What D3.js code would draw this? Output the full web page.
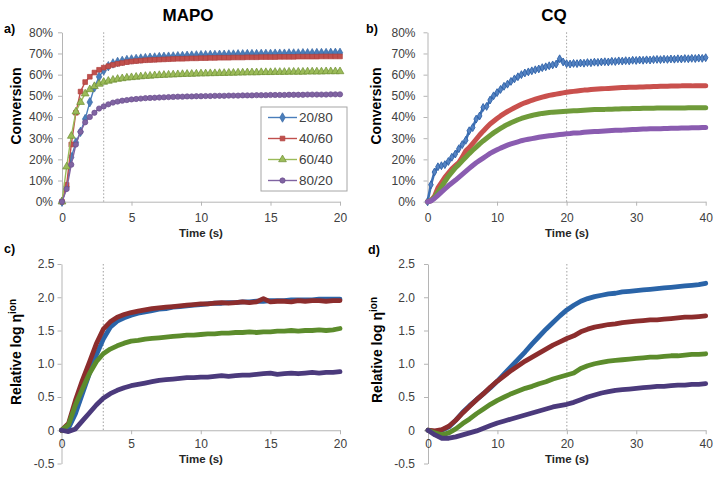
<!DOCTYPE html>
<html><head><meta charset="utf-8">
<script src="https://cdn.jsdelivr.net/npm/d3@7"></script>
<style>
body{margin:0;background:#fff;}
svg{display:block;}
text{font-family:"Liberation Sans",Arial,sans-serif;}
</style>
</head><body>
<svg id="chart" width="721" height="477"></svg>
<script>
// ---------------- DATA ----------------
const seriesNames = ["20/80", "40/60", "60/40", "80/20"];
const titles = ["MAPO", "CQ"];
const panelLabels = ["a)", "b)", "c)", "d)"];
const convTicks = [0, 10, 20, 30, 40, 50, 60, 70, 80];
const convTickLabels = ["0%", "10%", "20%", "30%", "40%", "50%", "60%", "70%", "80%"];
const etaTicks = [-0.5, 0, 0.5, 1.0, 1.5, 2.0, 2.5];
const etaTickLabels = ["-0.5", "0", "0.5", "1.0", "1.5", "2.0", "2.5"];
const xTicksMAPO = [0, 5, 10, 15, 20];
const xTicksCQ = [0, 10, 20, 30, 40];

// Panel a: MAPO conversion (%), sampled every 1/3 s
const tA = d3.range(0, 61).map(k => k / 3);
const a_2080 = [0, 7, 21, 28, 33, 39, 47, 54, 59, 62, 64, 65.3, 66, 66.5, 66.9, 67.2,
  67.4, 67.6, 67.8, 68, 68.1, 68.3, 68.4, 68.5, 68.6, 68.7, 68.8, 68.9, 69, 69.1, 69.2,
  69.2, 69.3, 69.3, 69.4, 69.4, 69.5, 69.5, 69.6, 69.6, 69.7, 69.7, 69.7, 69.8, 69.8, 69.8,
  69.9, 69.9, 69.9, 70, 70, 70, 70.1, 70.1, 70.1, 70.2, 70.2, 70.2, 70.3, 70.3, 70.3];
const a_4060 = [0, 8, 27, 42, 52, 56.5, 59, 61, 62.3, 63.3, 64, 64.6, 65.1, 65.5, 65.9, 66.2,
  66.4, 66.6, 66.8, 66.9, 67, 67.1, 67.2, 67.3, 67.4, 67.5, 67.5, 67.6, 67.7, 67.7, 67.8,
  67.8, 67.9, 67.9, 68, 68, 68, 68.1, 68.1, 68.1, 68.2, 68.2, 68.2, 68.3, 68.3, 68.3,
  68.3, 68.4, 68.4, 68.4, 68.4, 68.5, 68.5, 68.5, 68.5, 68.5, 68.6, 68.6, 68.6, 68.6, 68.6];
const a_6040 = [0, 16.5, 31, 42.5, 47, 51, 53, 54.5, 55.6, 56.5, 57, 57.5, 57.9, 58.2, 58.5, 58.7,
  58.9, 59.1, 59.3, 59.4, 59.6, 59.7, 59.8, 59.9, 60, 60.1, 60.2, 60.3, 60.3, 60.4, 60.5,
  60.5, 60.6, 60.6, 60.7, 60.7, 60.8, 60.8, 60.9, 60.9, 61, 61, 61, 61.1, 61.1, 61.1,
  61.2, 61.2, 61.2, 61.3, 61.3, 61.3, 61.3, 61.4, 61.4, 61.4, 61.4, 61.5, 61.5, 61.5, 61.5];
const a_8020 = [0, 6, 17.5, 27, 33, 37.5, 40, 42, 44, 45, 46, 46.8, 47.3, 47.7, 48, 48.3,
  48.5, 48.7, 48.9, 49, 49.1, 49.2, 49.3, 49.4, 49.5, 49.6, 49.6, 49.7, 49.7, 49.8, 49.8,
  49.9, 49.9, 50, 50, 50, 50.1, 50.1, 50.1, 50.2, 50.2, 50.2, 50.3, 50.3, 50.3, 50.4,
  50.4, 50.4, 50.4, 50.5, 50.5, 50.5, 50.5, 50.6, 50.6, 50.6, 50.6, 50.6, 50.7, 50.7, 50.7];

// Panel b: CQ conversion (%), every 0.5 s (81 points)
const tB = d3.range(0, 81).map(k => k * 0.5);
const b_2080 = [0, 8, 14, 16.5, 17, 17.5, 19, 21, 22.5, 25,
  27, 29, 33.5, 35, 39, 40.5, 44.5, 45, 48, 50,
  51.5, 53, 54.5, 55.5, 56.8, 58, 59, 60, 60.8, 61.3,
  61.8, 62.3, 62.7, 63.3, 63.7, 64.2, 64.6, 65, 67.5, 66,
  65.2, 65, 65.3, 65.2, 65.5, 65.4, 65.7, 65.6, 65.9, 65.8,
  66, 66.1, 66, 66.3, 66.2, 66.5, 66.4, 66.6, 66.5, 66.8,
  66.7, 66.9, 66.8, 67, 66.9, 67.1, 67.2, 67.1, 67.3, 67.2,
  67.4, 67.3, 67.5, 67.4, 67.6, 67.5, 67.7, 67.6, 67.8, 67.7, 68];
const b_4060 = [0, 0.5, 2.5, 6.5, 9, 11.5, 13.5, 15.5, 17, 18.5,
  21, 24, 25.5, 27.5, 29.5, 31.5, 33.3, 35, 36.7, 38,
  39.3, 40.5, 41.6, 42.6, 43.5, 44.4, 45.2, 46, 46.7, 47.3,
  47.9, 48.4, 48.9, 49.4, 49.8, 50.2, 50.5, 50.8, 51.1, 51.4,
  51.7, 51.9, 52.1, 52.3, 52.5, 52.7, 52.8, 53, 53.1, 53.2,
  53.3, 53.4, 53.5, 53.6, 53.7, 53.8, 53.9, 53.9, 54, 54.1,
  54.1, 54.2, 54.2, 54.3, 54.3, 54.4, 54.4, 54.5, 54.5, 54.5,
  54.6, 54.6, 54.6, 54.7, 54.7, 54.7, 54.7, 54.8, 54.8, 54.8, 54.8];
const b_6040 = [0, 0.5, 2, 4.5, 7, 9.5, 12, 14, 16, 17.5,
  19.3, 21, 22.7, 24.3, 25.8, 27.3, 28.7, 30, 31.3, 32.5,
  33.6, 34.6, 35.6, 36.5, 37.3, 38, 38.7, 39.3, 39.8, 40.3,
  40.7, 41.1, 41.4, 41.7, 41.9, 42.1, 42.3, 42.4, 42.5, 42.6,
  42.7, 42.8, 42.9, 43, 43.1, 43.2, 43.3, 43.4, 43.5, 43.5,
  43.6, 43.6, 43.7, 43.7, 43.8, 43.8, 43.9, 43.9, 43.9, 44,
  44, 44, 44.1, 44.1, 44.1, 44.1, 44.2, 44.2, 44.2, 44.2,
  44.3, 44.3, 44.3, 44.3, 44.3, 44.4, 44.4, 44.4, 44.4, 44.4, 44.4];
const b_8020 = [0, 0.3, 1.5, 3, 4.5, 6, 7.5, 8.8, 10.1, 11.5,
  12.9, 14.3, 15.7, 17.1, 18.4, 19.5, 20.6, 21.7, 22.8, 23.7,
  24.5, 25.3, 26, 26.7, 27.3, 27.8, 28.3, 28.8, 29.2, 29.5,
  29.8, 30.1, 30.4, 30.7, 30.9, 31.1, 31.3, 31.5, 31.7, 31.9,
  32.1, 32.2, 32.4, 32.5, 32.6, 32.8, 32.9, 33, 33.1, 33.2,
  33.3, 33.4, 33.5, 33.6, 33.7, 33.8, 33.8, 33.9, 34, 34.1,
  34.1, 34.2, 34.3, 34.3, 34.4, 34.4, 34.5, 34.5, 34.6, 34.6,
  34.7, 34.7, 34.7, 34.8, 34.8, 34.8, 34.9, 34.9, 34.9, 35, 35];

// Panel c: MAPO relative log eta(ion), every 0.5 s
const tC = d3.range(0, 41).map(k => k * 0.5);
const c_2080 = [0, 0.03, 0.25, 0.55, 0.85, 1.13, 1.37, 1.55, 1.64, 1.69,
  1.73, 1.76, 1.78, 1.8, 1.82, 1.83, 1.85, 1.86, 1.87, 1.88,
  1.89, 1.9, 1.91, 1.91, 1.92, 1.92, 1.93, 1.93, 1.94, 1.94,
  1.95, 1.95, 1.95, 1.96, 1.96, 1.96, 1.96, 1.97, 1.97, 1.97, 1.97];
const c_4060 = [0, 0.1, 0.45, 0.75, 1.02, 1.3, 1.52, 1.63, 1.7, 1.74,
  1.77, 1.79, 1.81, 1.83, 1.84, 1.85, 1.86, 1.87, 1.88, 1.89,
  1.9, 1.9, 1.91, 1.92, 1.91, 1.92, 1.93, 1.92, 1.93, 1.98,
  1.93, 1.94, 1.94, 1.93, 1.95, 1.94, 1.95, 1.95, 1.94, 1.95, 1.95];
const c_6040 = [0, 0.08, 0.38, 0.62, 0.85, 1.03, 1.15, 1.22, 1.27, 1.31,
  1.34, 1.35, 1.37, 1.38, 1.39, 1.4, 1.41, 1.42, 1.43, 1.43,
  1.44, 1.45, 1.45, 1.46, 1.46, 1.47, 1.47, 1.48, 1.47, 1.48,
  1.48, 1.49, 1.49, 1.5, 1.49, 1.5, 1.5, 1.51, 1.5, 1.51, 1.53];
const c_8020 = [0, -0.02, 0.02, 0.14, 0.26, 0.38, 0.48, 0.55, 0.6, 0.64,
  0.67, 0.69, 0.71, 0.73, 0.75, 0.76, 0.77, 0.78, 0.79, 0.79,
  0.8, 0.8, 0.81, 0.82, 0.81, 0.82, 0.83, 0.83, 0.84, 0.85,
  0.86, 0.84, 0.85, 0.86, 0.85, 0.86, 0.87, 0.86, 0.87, 0.87, 0.88];

// Panel d: CQ relative log eta(ion), every 1 s
const tD = d3.range(0, 41);
const d_2080 = [0, -0.02, 0, 0.05, 0.15, 0.27, 0.37, 0.46, 0.55, 0.64,
  0.74, 0.85, 0.96, 1.07, 1.18, 1.3, 1.41, 1.52, 1.62, 1.72,
  1.81, 1.88, 1.94, 1.98, 2.01, 2.03, 2.05, 2.06, 2.08, 2.09,
  2.1, 2.11, 2.12, 2.13, 2.14, 2.15, 2.16, 2.17, 2.18, 2.19, 2.21];
const d_4060 = [0, -0.01, 0.01, 0.06, 0.15, 0.26, 0.36, 0.46, 0.55, 0.65,
  0.74, 0.82, 0.9, 0.97, 1.04, 1.1, 1.16, 1.22, 1.28, 1.33,
  1.38, 1.42, 1.48, 1.52, 1.55, 1.57, 1.59, 1.6, 1.62, 1.63,
  1.64, 1.65, 1.66, 1.66, 1.67, 1.68, 1.69, 1.7, 1.7, 1.71, 1.72];
const d_6040 = [0, -0.04, -0.07, -0.04, 0.02, 0.1, 0.17, 0.25, 0.32, 0.39,
  0.45, 0.5, 0.55, 0.59, 0.63, 0.66, 0.7, 0.73, 0.77, 0.8,
  0.83, 0.86, 0.93, 0.97, 1.0, 1.02, 1.04, 1.05, 1.06, 1.07,
  1.08, 1.09, 1.1, 1.1, 1.11, 1.12, 1.12, 1.13, 1.14, 1.14, 1.15];
const d_8020 = [0, -0.07, -0.12, -0.12, -0.1, -0.07, -0.04, -0.01, 0.03, 0.07,
  0.11, 0.14, 0.17, 0.2, 0.23, 0.26, 0.29, 0.32, 0.35, 0.37,
  0.39, 0.42, 0.46, 0.5, 0.53, 0.56, 0.58, 0.6, 0.61, 0.62,
  0.63, 0.64, 0.65, 0.66, 0.66, 0.67, 0.68, 0.68, 0.69, 0.69, 0.7];

const lightStartEnd = [3, 20]; // dotted line positions (MAPO, CQ), seconds

// ---------------- DRAWING ----------------
const svg = d3.select("#chart");
const axisColor = "#b5b5b5";
const tickTextColor = "#404040";

const colA = ["#4a7ebb", "#c0504d", "#9bbb59", "#8064a2"];
const colAstroke = ["#3c6aa5", "#b0403d", "#6f8f33", "#6b4f8e"];
const colB = ["#3d70b4", "#c9504d", "#6f9b3a", "#8a5cb0"];
const colCD = ["#2a64a8", "#8c2d2d", "#5c8c2c", "#4b3a7c"];

function makePanel(p) {
  const x = d3.scaleLinear().domain([0, p.xmax]).range([p.x0, p.x1]);
  const y = d3.scaleLinear().domain([p.ymin, p.ymax]).range([p.yb, p.yt]);
  const g = svg.append("g");
  const ya = d3.axisLeft(y).tickValues(p.yticks).tickSize(4).tickSizeOuter(0)
    .tickPadding(p.ypad).tickFormat((d, i) => p.ylabels[i]);
  const yg = g.append("g").attr("transform", `translate(${p.x0},0)`).call(ya);
  const xa = d3.axisBottom(x).tickValues(p.xticks).tickSize(4).tickSizeOuter(0)
    .tickPadding(p.xpad);
  const xg = g.append("g").attr("transform", `translate(0,${y(p.xAxisAt)})`).call(xa);
  [yg, xg].forEach(a => {
    a.select(".domain").attr("stroke", axisColor);
    a.selectAll(".tick line").attr("stroke", axisColor);
    a.selectAll(".tick text").attr("fill", tickTextColor)
      .style("font-size", "12px").style("font-family", '"Liberation Sans",Arial,sans-serif');
  });
  g.append("line")
    .attr("x1", x(p.dot)).attr("x2", x(p.dot))
    .attr("y1", y(p.ymax)).attr("y2", y(p.xAxisAt))
    .attr("stroke", "#a0a0a0").attr("stroke-width", 1).attr("stroke-dasharray", "1.5,2");
  return { x, y, g };
}

// ---- panel a ----
const pa = makePanel({ x0: 62, x1: 340, xmax: 20, xticks: xTicksMAPO, ymin: 0, ymax: 80,
  yb: 201.7, yt: 32.3, yticks: convTicks, ylabels: convTickLabels, ypad: 5, xpad: 8,
  xAxisAt: 0, dot: lightStartEnd[0] });
const symA = [d3.symbolDiamond, d3.symbolSquare, d3.symbolTriangle, d3.symbolCircle];
const symSizeA = [26, 22, 26, 22];
const dataA = [a_2080, a_4060, a_6040, a_8020];
dataA.forEach((vals, s) => {
  const line = d3.line().x((d, i) => pa.x(tA[i])).y(d => pa.y(d));
  pa.g.append("path").attr("d", line(vals)).attr("fill", "none")
    .attr("stroke", colA[s]).attr("stroke-width", 1.4);
  pa.g.selectAll(null).data(vals).enter().append("path")
    .attr("d", d3.symbol().type(symA[s]).size(symSizeA[s]))
    .attr("transform", (d, i) => `translate(${pa.x(tA[i])},${pa.y(d)})`)
    .attr("fill", colA[s]).attr("stroke", colAstroke[s]).attr("stroke-width", 0.7);
});

// legend
const leg = svg.append("g");
leg.append("rect").attr("x", 261).attr("y", 107).attr("width", 86).attr("height", 84)
  .attr("fill", "#fff").attr("stroke", "#a6a6a6").attr("stroke-width", 1);
seriesNames.forEach((n, s) => {
  const yy = 117.5 + s * 21;
  leg.append("line").attr("x1", 268).attr("x2", 297).attr("y1", yy).attr("y2", yy)
    .attr("stroke", colA[s]).attr("stroke-width", 1.4);
  leg.append("path").attr("d", d3.symbol().type(symA[s]).size(symSizeA[s]))
    .attr("transform", `translate(282.5,${yy})`)
    .attr("fill", colA[s]).attr("stroke", colAstroke[s]).attr("stroke-width", 0.7);
  leg.append("text").attr("x", 299).attr("y", yy).attr("dy", "0.36em")
    .attr("fill", tickTextColor).style("font-size", "13.5px").text(n);
});

// ---- panel b ----
const pb = makePanel({ x0: 427.5, x1: 705.7, xmax: 40, xticks: xTicksCQ, ymin: 0, ymax: 80,
  yb: 201.7, yt: 32.3, yticks: convTicks, ylabels: convTickLabels, ypad: 8, xpad: 8,
  xAxisAt: 0, dot: lightStartEnd[1] });
const dataB = [b_2080, b_4060, b_6040, b_8020];
dataB.forEach((vals, s) => {
  const line = d3.line().x((d, i) => pb.x(tB[i])).y(d => pb.y(d));
  pb.g.append("path").attr("d", line(vals)).attr("fill", "none")
    .attr("stroke", colB[s]).attr("stroke-width", s === 0 ? 2.6 : 5)
    .attr("stroke-linejoin", "round").attr("stroke-linecap", "round");
  if (s === 0) {
    pb.g.selectAll(null).data(vals).enter().append("path")
      .attr("d", d3.symbol().type(d3.symbolDiamond).size(18))
      .attr("transform", (d, i) => `translate(${pb.x(tB[i])},${pb.y(d)})`)
      .attr("fill", "#5583c2").attr("stroke", "#2f62a8").attr("stroke-width", 0.9);
  }
});

// ---- panel c ----
const pc = makePanel({ x0: 61.5, x1: 340, xmax: 20, xticks: xTicksMAPO, ymin: -0.5, ymax: 2.5,
  yb: 463.5, yt: 264, yticks: etaTicks, ylabels: etaTickLabels, ypad: 3, xpad: 5,
  xAxisAt: 0, dot: lightStartEnd[0] });
const dataC = [c_2080, c_4060, c_6040, c_8020];
dataC.forEach((vals, s) => {
  const line = d3.line().x((d, i) => pc.x(tC[i])).y(d => pc.y(d));
  pc.g.append("path").attr("d", line(vals)).attr("fill", "none")
    .attr("stroke", colCD[s]).attr("stroke-width", 4.8)
    .attr("stroke-linejoin", "round").attr("stroke-linecap", "round");
});

// ---- panel d ----
const pd = makePanel({ x0: 428, x1: 705.7, xmax: 40, xticks: xTicksCQ, ymin: -0.5, ymax: 2.5,
  yb: 463.5, yt: 264, yticks: etaTicks, ylabels: etaTickLabels, ypad: 9, xpad: 5,
  xAxisAt: 0, dot: lightStartEnd[1] });
const dataD = [d_2080, d_4060, d_6040, d_8020];
dataD.forEach((vals, s) => {
  const line = d3.line().x((d, i) => pd.x(tD[i])).y(d => pd.y(d));
  pd.g.append("path").attr("d", line(vals)).attr("fill", "none")
    .attr("stroke", colCD[s]).attr("stroke-width", 4.8)
    .attr("stroke-linejoin", "round").attr("stroke-linecap", "round");
});

// ---- texts ----
function boldText(x, y, txt, size, anchor, rot) {
  const t = svg.append("text").attr("x", x).attr("y", y).attr("text-anchor", anchor || "middle")
    .style("font-weight", "bold").style("font-size", size + "px").attr("fill", "#000").text(txt);
  if (rot) t.attr("transform", `rotate(-90,${x},${y})`);
  return t;
}
boldText(188, 21, titles[0], 17);
boldText(554, 21, titles[1], 17);
boldText(4, 33, panelLabels[0], 12.5, "start");
boldText(366, 33, panelLabels[1], 12.5, "start");
boldText(4, 253, panelLabels[2], 12.5, "start");
boldText(368, 254, panelLabels[3], 12.5, "start");
boldText(21, 106, "Conversion", 14, "middle", true);
boldText(381, 106, "Conversion", 14, "middle", true);
[[201, 236.5], [567, 236.5], [201, 463], [567, 462.5]].forEach(([x, y]) => {
  svg.append("text").attr("x", x).attr("y", y).attr("text-anchor", "middle")
    .style("font-weight", "bold").style("font-size", "11.5px").attr("fill", "#262626").text("Time (s)");
});
[[21, 352], [382, 350]].forEach(([x, y]) => {
  const t = svg.append("text").attr("x", x).attr("y", y).attr("text-anchor", "middle")
    .style("font-weight", "bold").style("font-size", "14px").attr("fill", "#000")
    .attr("transform", `rotate(-90,${x},${y})`);
  t.append("tspan").text("Relative log η");
  t.append("tspan").attr("dy", "-0.5em").style("font-size", "10px").text("ion");
});
</script>
</body></html>
